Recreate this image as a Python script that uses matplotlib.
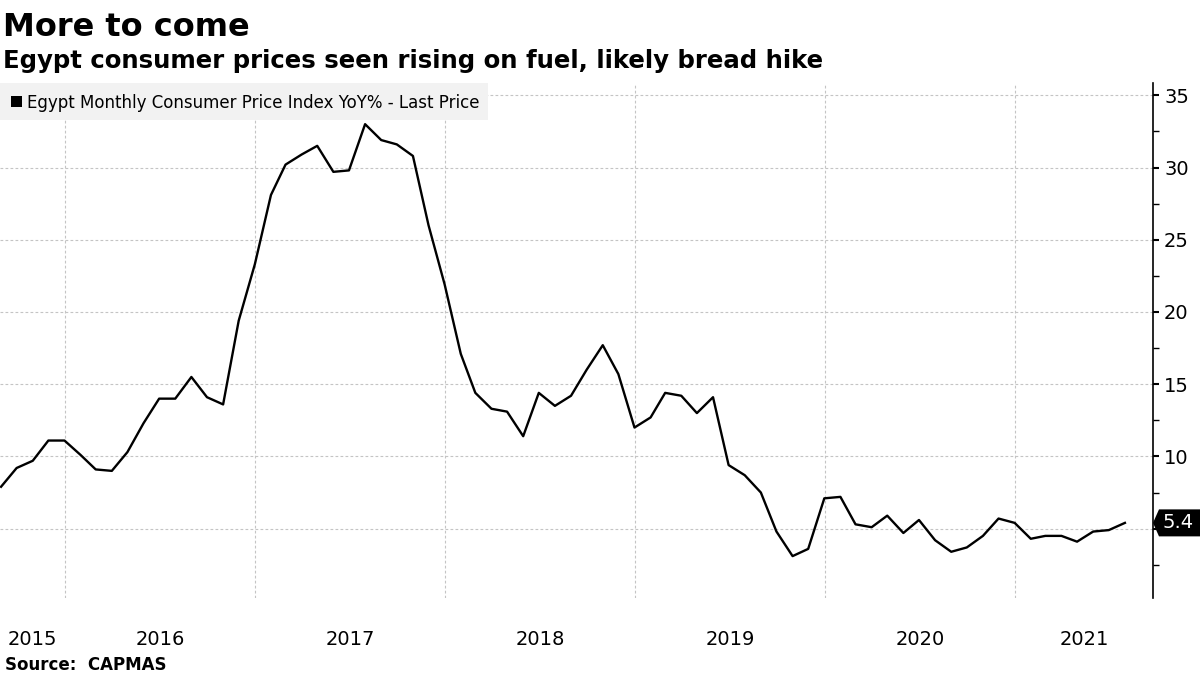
import numpy as np
import pandas as pd
import matplotlib
matplotlib.use("Agg")
import matplotlib.pyplot as plt
import matplotlib.transforms as mtransforms

# Egypt monthly CPI YoY %, month-end values Aug 2015 - Jul 2021
start_month = "2015-08-31"
cpi_yoy = [
    7.9, 9.2, 9.7, 11.1, 11.1,                                       # 2015 Aug-Dec
    10.1, 9.1, 9.0, 10.3, 12.3, 14.0, 14.0, 15.5, 14.1, 13.6, 19.4, 23.3,  # 2016
    28.1, 30.2, 30.9, 31.5, 29.7, 29.8, 33.0, 31.9, 31.6, 30.8, 26.0, 21.9,  # 2017
    17.1, 14.4, 13.3, 13.1, 11.4, 14.4, 13.5, 14.2, 16.0, 17.7, 15.7, 12.0,  # 2018
    12.7, 14.4, 14.2, 13.0, 14.1, 9.4, 8.7, 7.5, 4.8, 3.1, 3.6, 7.1,        # 2019
    7.2, 5.3, 5.1, 5.9, 4.7, 5.6, 4.2, 3.4, 3.7, 4.5, 5.7, 5.4,             # 2020
    4.3, 4.5, 4.5, 4.1, 4.8, 4.9, 5.4,                                      # 2021 Jan-Jul
]
years = [2015, 2016, 2017, 2018, 2019, 2020, 2021]
y_ticks = [5, 10, 15, 20, 25, 30, 35]
y_tick_labels = ["", "10", "15", "20", "25", "30", "35"]
last_label = "5.4"

title = "More to come"
subtitle = "Egypt consumer prices seen rising on fuel, likely bread hike"
legend_label = "Egypt Monthly Consumer Price Index YoY% - Last Price"
source = "Source:  CAPMAS"

W, H = 1200, 675
dates = pd.date_range(start_month, periods=len(cpi_yoy), freq="ME")

fig = plt.figure(figsize=(12, 6.75), dpi=100)
ax = fig.add_axes([0.0, 1 - 598 / H, 1153 / W, (598 - 83) / H])

x0 = pd.Timestamp("2015-08-29")
x1 = pd.Timestamp("2021-09-23")
ax.set_xlim(x0, x1)
ax.set_ylim(0.2, 35.85)

ax.plot(dates, cpi_yoy, color="black", lw=1.7, zorder=3)

# grid
grid_kw = dict(color="#c4c4c4", lw=0.8, linestyle=(0, (2.5, 2)), zorder=1)
for yv in y_ticks:
    ax.axhline(yv, **grid_kw)
for yr in years[1:]:
    ax.axvline(pd.Timestamp(f"{yr}-01-01"), **grid_kw)

# spines
for s in ["left", "top", "bottom"]:
    ax.spines[s].set_visible(False)
ax.spines["right"].set_linewidth(1.2)

# y axis on the right
ax.yaxis.tick_right()
ax.set_yticks(y_ticks)
ax.set_yticklabels(y_tick_labels)
ax.set_yticks(np.arange(2.5, 35, 5), minor=True)
ax.tick_params(axis="y", which="major", length=4, width=1.5, pad=4, labelsize=14)
ax.tick_params(axis="y", which="minor", length=4, width=1)

# x axis: year labels centered on visible part of each year
centers = []
for yr in years:
    a = max(pd.Timestamp(f"{yr}-01-01"), x0)
    b = min(pd.Timestamp(f"{yr + 1}-01-01"), x1)
    centers.append(a + (b - a) / 2)
ax.set_xticks([pd.Timestamp(f"{yr}-01-01") for yr in years[1:]])
ax.set_xticklabels([])
ax.set_xticks(centers, minor=True)
ax.set_xticklabels([str(y) for y in years], minor=True)
ax.tick_params(axis="x", which="both", length=0)
ax.tick_params(axis="x", which="minor", pad=23, labelsize=14)

# last value tag (arrow-shaped black box)
y_px = ax.transData.transform((0, cpi_yoy[-1]))[1]
tip = 1153
pts = [(tip, y_px), (tip + 6, y_px + 13.5), (W, y_px + 13.5),
       (W, y_px - 13.5), (tip + 6, y_px - 13.5)]
fig.patches.append(plt.Polygon([(px / W, py / H) for px, py in pts], closed=True,
                               transform=fig.transFigure, fc="black", ec="none", zorder=5))
fig.text(1163 / W, y_px / H, last_label, color="white", fontsize=14,
         va="center", ha="left", zorder=6)

# legend box
fig.patches.append(plt.Rectangle((0, 1 - 120 / H), 488 / W, 37 / H,
                                 transform=fig.transFigure, fc="#f2f2f2", ec="none", zorder=0))
fig.patches.append(plt.Rectangle((11 / W, 1 - 107 / H), 11 / W, 11 / H,
                                 transform=fig.transFigure, fc="black", ec="none", zorder=1))
fig.text(27 / W, 1 - 108 / H, legend_label, fontsize=12, va="baseline", ha="left")

# titles
fig.text(3 / W, 1 - 36 / H, title, fontsize=23, fontweight="bold", va="baseline")
fig.text(3 / W, 1 - 68 / H, subtitle, fontsize=17.6, fontweight="bold", va="baseline")
fig.text(5 / W, 1 - 670 / H, source, fontsize=12, fontweight="bold", va="baseline")

fig.savefig("out.png", dpi=100)
